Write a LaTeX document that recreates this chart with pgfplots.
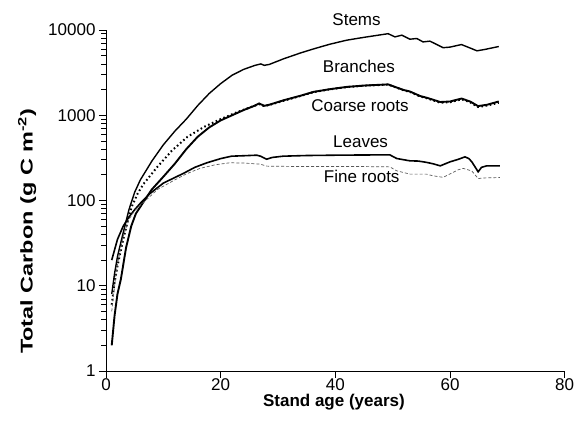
\documentclass[border=0pt]{standalone}
\usepackage{graphicx}
\usepackage{pgfplots}
\pgfplotsset{compat=1.18}
\usepackage{pgfplotstable}
\usepackage{fontspec}
\setmainfont{Liberation Sans}

\pgfplotstableread{
x y
1 8
1.5 14
2 22
3 42
4 78
5 125
6 175
7 225
8 290
10 450
12 650
14 900
16 1300
18 1800
20 2350
22 2950
24 3450
26 3850
27 4000
27.6 3850
28.5 3950
31 4600
34 5400
36.2 6000
39 6800
42 7600
45 8200
48 8800
49.2 9050
50.4 8300
51.6 8700
53 7800
54.2 7950
55.3 7250
56.5 7400
58.8 6200
60 6300
62 6750
64.7 5700
66 5900
68.5 6400
}\stems

\pgfplotstableread{
x y
1 2
1.5 4.5
2 8
2.6 12
3.5 28
4.4 50
5.2 70
6.4 93
8 135
10 190
12 270
14 400
16 560
18 720
20 870
22 1000
24 1150
26 1300
26.7 1375
27.6 1290
28.5 1330
31 1500
34 1700
36.2 1880
39 2020
42 2150
45 2230
48 2280
49.2 2300
50 2200
51.9 1980
53 1900
54.8 1680
56 1600
58.3 1430
60 1450
62 1570
63.5 1450
64.9 1280
66.5 1330
68.5 1450
}\branches

\pgfplotstableread{
x y
1 6
1.5 11
2 17
3 35
4 65
4.5 85
5.5 120
6.5 155
7.7 195
9 250
11.5 385
14.2 558
17.1 730
20 900
22.9 1090
24.6 1200
26.7 1350
27.6 1280
28.5 1320
31 1480
34 1690
36.2 1870
39 2010
42 2140
45 2220
48 2270
49.2 2290
50 2190
51.9 1960
53 1880
54.8 1660
56 1580
58.3 1400
60 1420
62 1540
63.5 1420
64.9 1250
66.5 1300
68.5 1400
}\coarse

\pgfplotstableread{
x y
1 20
2 35
3 50
4 64
5 78
6 93
7.7 121
10 160
13.5 208
15.5 245
17.6 277
20 310
21.9 331
24 335
26.3 340
27 330
28 305
29 320
30.9 331
35 337
40 340
45 342
49.5 343
50.7 311
52 300
53 292
54.5 290
55.9 280
57 270
58.3 255
60 284
61.5 305
62.6 325
63.3 310
63.8 284
64.5 240
64.9 217
65.5 245
66.4 255
68.7 255
}\leaves

\pgfplotstableread{
x y
1 5
1.5 10
2 18
3 38
4 60
5 76
6 88
7.7 112
9 135
11.7 170
14 205
16.4 238
19 262
21.6 277
24 275
26.9 267
28 253
30 252
35 250
40 250
45 250
49.5 248
50.7 223
52 212
53 204
55.9 204
57 195
58.8 187
60 205
61.5 230
62.3 238
63.8 222
64.9 181
66 184
68.7 186
}\fineroots

\begin{document}
\begin{tikzpicture}
\useasboundingbox (-106pt,-65pt) rectangle (479pt,371pt);
\begin{axis}[
  scale only axis,
  width=458.7pt, height=341pt,
  xmin=0, xmax=80, ymin=1, ymax=10000,
  ymode=log,
  axis x line=bottom, axis y line=left,
  axis line style={-, line width=0.9pt},
  xtick={0,20,40,60,80},
  ytick={1,10,100,1000,10000},
  yticklabels={1,10,100,1000,10000},
  tick align=outside,
  major tick length=7pt,
  minor tick length=4.5pt,
  tick style={black, line width=0.8pt},
  /pgf/number format/assume math mode=true,
  ticklabel style={font=\fontsize{17}{20}\selectfont},
  xticklabel style={inner sep=0.5pt},
  every axis x label/.style={at={(rel axis cs:0.497,-0.092)}, anchor=center, inner sep=0.5pt},
  every axis y label/.style={at={(rel axis cs:-0.172,0.41)}, rotate=90, anchor=center},
  label style={font=\fontsize{17}{20}\selectfont\bfseries},
  xlabel={Stand age (years)},
  ylabel={\scalebox{1.38}[1]{Total Carbon (g C m\textsuperscript{-2})}},
  clip=false,
]
\addplot[black, line width=1.4pt] table {\stems};
\addplot[black, line width=1.9pt] table {\branches};
\addplot[black, line width=2pt, dash pattern=on 1.6pt off 2.6pt] table {\coarse};
\addplot[black, line width=1.6pt] table {\leaves};
\addplot[black!65, line width=0.7pt, dash pattern=on 3pt off 2pt] table {\fineroots};
\node[font=\fontsize{17}{20}\selectfont] at (axis cs:43.7,13390) {Stems};
\node[font=\fontsize{17}{20}\selectfont] at (axis cs:44.1,3766) {Branches};
\node[font=\fontsize{17}{20}\selectfont] at (axis cs:44.3,1313) {Coarse roots};
\node[font=\fontsize{17}{20}\selectfont] at (axis cs:44.4,488) {Leaves};
\node[font=\fontsize{17}{20}\selectfont] at (axis cs:44.6,193) {Fine roots};
\end{axis}
\end{tikzpicture}
\end{document}
